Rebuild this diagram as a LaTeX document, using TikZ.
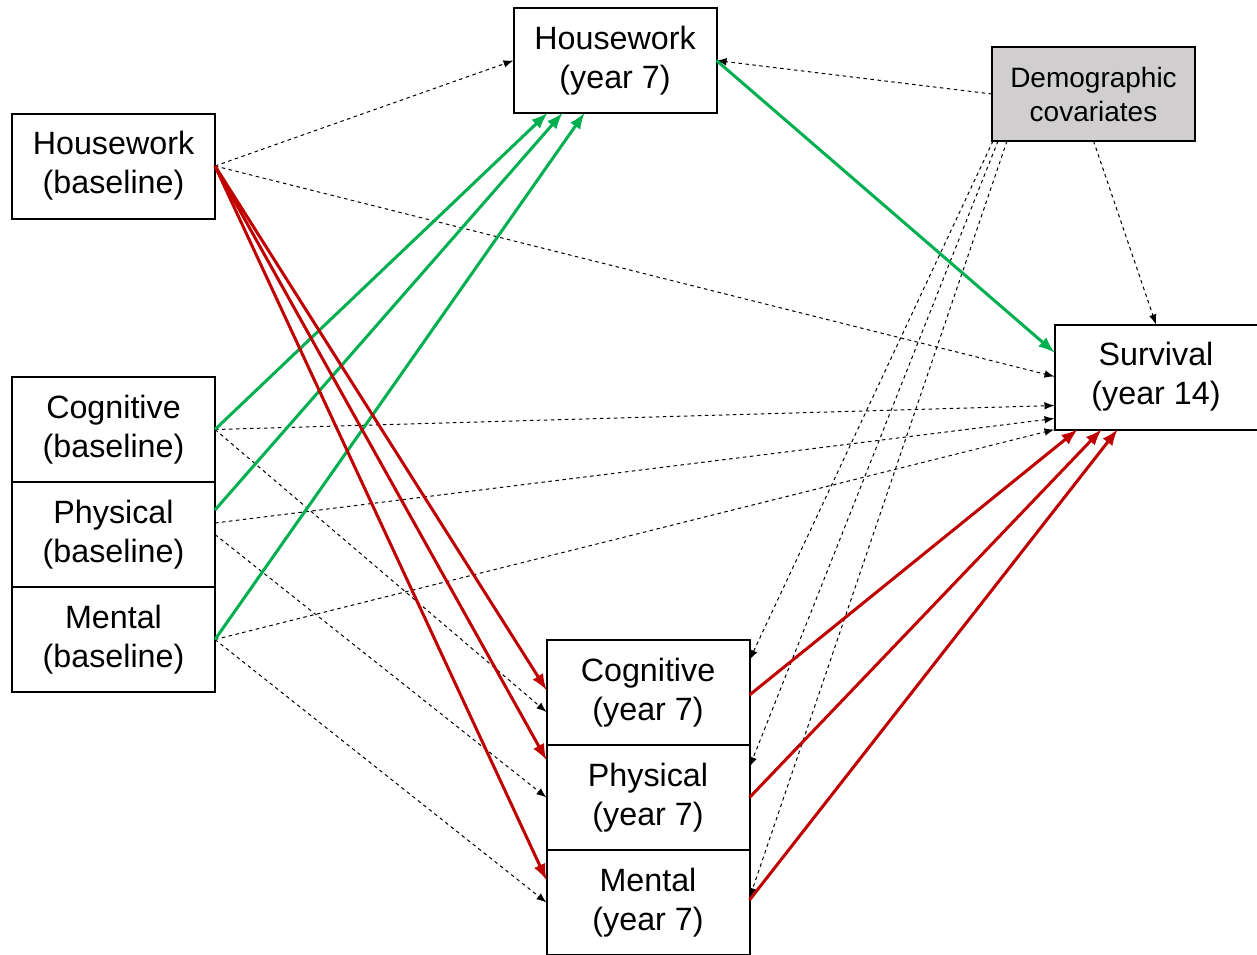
\documentclass[tikz,border=0pt]{standalone}
\usepackage{fontspec}
\setmainfont{Liberation Sans}
\usetikzlibrary{positioning}
\definecolor{kgreen}{RGB}{0,176,80}
\definecolor{kred}{RGB}{192,0,0}
\definecolor{kgray}{RGB}{208,206,206}

\begin{document}
\begin{tikzpicture}[x=0.4pt, y=-0.4pt, >=latex, node distance=0pt,
  every node/.style={font=\fontsize{12.9}{15.6}\selectfont},
  var/.style={draw, line width=0.8pt, align=center, outer sep=0pt, inner sep=0pt, minimum width=81.2pt, minimum height=42pt},
  ctrl/.style={->, line width=0.4pt, dash pattern=on 1.4pt off 1.4pt},
  gainpath/.style={->, line width=1.2pt, color=kgreen},
  losspath/.style={->, line width=1.2pt, color=kred}]
\useasboundingbox (0,0) rectangle (1257,954);
% baseline measures
\node[var] (hwb) at (113.5,166) {Housework\\(baseline)};
\node[var] (cogb) at (113.5,429.5) {Cognitive\\(baseline)};
\node[var, below=of cogb] (physb) {Physical\\(baseline)};
\node[var, below=of physb] (mentb) {Mental\\(baseline)};
% year 7 measures
\node[var] (hw7) at (615,60.5) {Housework\\(year 7)};
\node[var] (cog7) at (648,692.5) {Cognitive\\(year 7)};
\node[var, below=of cog7] (phys7) {Physical\\(year 7)};
\node[var, below=of phys7] (ment7) {Mental\\(year 7)};
% outcome and controls
\node[var] (surv) at (1156,377) {Survival\\(year 14)};
\node[var, fill=kgray, minimum height=37.6pt, font=\fontsize{11.2}{13.6}\selectfont] (demo) at (1093.5,94) {Demographic\\covariates};

% covariate paths
\draw[ctrl] (hwb.east) -- (hw7.west);
\draw[ctrl] (hwb.east) -- ([yshift=-20.8pt]surv.north west);
\draw[ctrl] (cogb.east) -- ([yshift=-32.4pt]surv.north west);
\draw[ctrl] ([yshift=-16.4pt]physb.north east) -- ([yshift=-37.6pt]surv.north west);
\draw[ctrl] (mentb.east) -- (surv.south west);
\draw[ctrl] (cogb.east) -- ([yshift=-28.8pt]cog7.north west);
\draw[ctrl] (physb.east) -- (phys7.west);
\draw[ctrl] (mentb.east) -- (ment7.west);
\draw[ctrl] (demo.west) -- (hw7.east);
\draw[ctrl] (demo.south) -- (surv.north);
\draw[ctrl] ([xshift=0.4pt]demo.south west) -- ([yshift=-8pt]cog7.north east);
\draw[ctrl] ([xshift=2.4pt]demo.south west) -- ([yshift=-8.8pt]phys7.north east);
\draw[ctrl] ([xshift=6pt]demo.south west) -- ([yshift=-19.2pt]ment7.north east);

% positive paths
\draw[gainpath] (cogb.east) -- ([xshift=13.6pt]hw7.south west);
\draw[gainpath] ([yshift=-11.2pt]physb.north east) -- ([xshift=19.6pt]hw7.south west);
\draw[gainpath] (mentb.east) -- ([xshift=28.4pt]hw7.south west);
\draw[gainpath] (hw7.east) -- ([yshift=-11.2pt]surv.north west);

% negative paths
\draw[losspath] (hwb.east) -- ([yshift=-20pt]cog7.north west);
\draw[losspath] (hwb.east) -- ([yshift=-6pt]phys7.north west);
\draw[losspath] (hwb.east) -- ([yshift=-12pt]ment7.north west);
\draw[losspath] ([yshift=-22pt]cog7.north east) -- ([xshift=9.2pt]surv.south west);
\draw[losspath] (phys7.east) -- ([xshift=18.8pt]surv.south west);
\draw[losspath] ([yshift=-20pt]ment7.north east) -- ([xshift=25.2pt]surv.south west);
\end{tikzpicture}
\end{document}
